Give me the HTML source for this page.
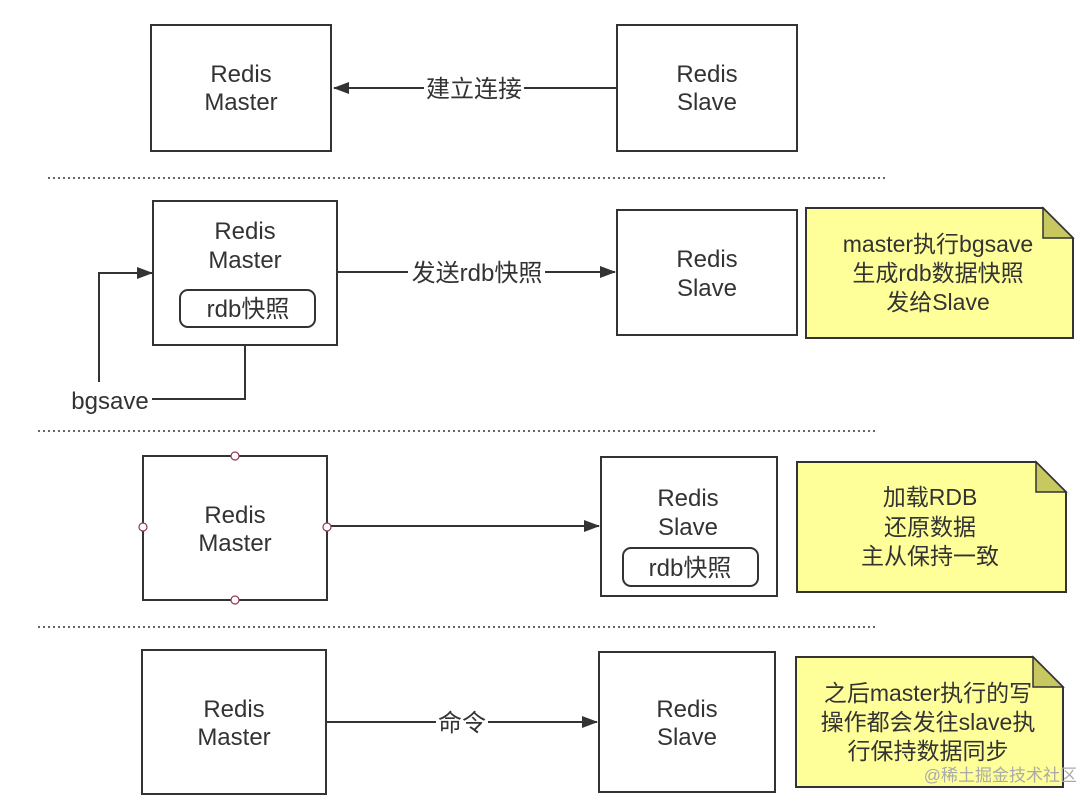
<!DOCTYPE html>
<html><head><meta charset="utf-8"><style>
html,body{margin:0;padding:0;background:#fff;}
svg{display:block;}
text{font-family:"Liberation Sans","Noto Sans CJK SC",sans-serif;fill:#333;}
</style></head><body>
<svg width="1090" height="807" viewBox="0 0 1090 807" xmlns="http://www.w3.org/2000/svg">
<defs>
<marker id="a" markerWidth="16" markerHeight="12" refX="15" refY="6" orient="auto" markerUnits="userSpaceOnUse">
<path d="M0,0 L16,6 L0,12 Z" fill="#333"/></marker>
</defs>
<g fill="#fff" stroke="#333" stroke-width="2">
<rect x="151" y="25" width="180" height="126"/>
<rect x="617" y="25" width="180" height="126"/>
<rect x="153" y="201" width="184" height="144"/>
<rect x="617" y="210" width="180" height="125"/>
<rect x="180" y="290" width="135" height="37" rx="8"/>
<rect x="143" y="456" width="184" height="144"/>
<rect x="601" y="457" width="176" height="139"/>
<rect x="623" y="548" width="135" height="38" rx="8"/>
<rect x="142" y="650" width="184" height="144"/>
<rect x="599" y="652" width="176" height="140"/>
</g>
<g fill="#ffff99" stroke="#333" stroke-width="2">
<path d="M806,208 H1043 L1073,238 V338 H806 Z"/>
<path d="M797,462 H1036 L1066,492 V592 H797 Z"/>
<path d="M796,657 H1033 L1063,687 V787 H796 Z"/>
</g>
<g fill="#c8c860" stroke="#333" stroke-width="1.5">
<path d="M1043,208 V238 H1073 Z"/>
<path d="M1036,462 V492 H1066 Z"/>
<path d="M1033,657 V687 H1063 Z"/>
</g>
<g stroke="#333" stroke-width="1.5" stroke-dasharray="2,3">
<line x1="48" y1="178" x2="888" y2="178"/>
<line x1="38" y1="431" x2="878" y2="431"/>
<line x1="38" y1="627" x2="878" y2="627"/>
</g>
<g stroke="#333" stroke-width="2" fill="none">
<line x1="617" y1="88" x2="524" y2="88"/>
<line x1="424" y1="88" x2="334" y2="88" marker-end="url(#a)"/>
<line x1="337" y1="272" x2="408" y2="272"/>
<line x1="545" y1="272" x2="615" y2="272" marker-end="url(#a)"/>
<polyline points="152,399 245,399 245,345"/>
<polyline points="99,382 99,273 152,273" marker-end="url(#a)"/>
<line x1="327" y1="526" x2="599" y2="526" marker-end="url(#a)"/>
<line x1="326" y1="722" x2="436" y2="722"/>
<line x1="488" y1="722" x2="597" y2="722" marker-end="url(#a)"/>
</g>
<g fill="#fff" stroke="#8b3a50" stroke-width="1.2">
<circle cx="235" cy="456" r="4"/><circle cx="235" cy="600" r="4"/>
<circle cx="143" cy="527" r="4"/><circle cx="327" cy="527" r="4"/>
</g>
<g font-size="24" text-anchor="middle">
<text x="241" y="82">Redis</text><text x="241" y="110">Master</text>
<text x="707" y="82">Redis</text><text x="707" y="110">Slave</text>
<text x="474" y="97">建立连接</text>
<text x="245" y="239">Redis</text><text x="245" y="268">Master</text>
<text x="248" y="317">rdb快照</text>
<text x="707" y="267">Redis</text><text x="707" y="296">Slave</text>
<text x="477" y="281">发送rdb快照</text>
<text x="110" y="409">bgsave</text>
<text x="235" y="523">Redis</text><text x="235" y="551">Master</text>
<text x="688" y="506">Redis</text><text x="688" y="535">Slave</text>
<text x="690" y="576">rdb快照</text>
<text x="234" y="717">Redis</text><text x="234" y="745">Master</text>
<text x="687" y="717">Redis</text><text x="687" y="745">Slave</text>
<text x="462" y="731">命令</text>
</g>
<g font-size="23" text-anchor="middle">
<text x="938" y="252">master执行bgsave</text>
<text x="938" y="281">生成rdb数据快照</text>
<text x="938" y="310">发给Slave</text>
<text x="930" y="505">加载RDB</text>
<text x="930" y="535">还原数据</text>
<text x="930" y="564">主从保持一致</text>
<text x="928" y="701">之后master执行的写</text>
<text x="928" y="730">操作都会发往slave执</text>
<text x="928" y="759">行保持数据同步</text>
</g>
<text x="1077" y="781" font-size="17" text-anchor="end" style="fill:#aaa">@稀土掘金技术社区</text>
</svg>
</body></html>
